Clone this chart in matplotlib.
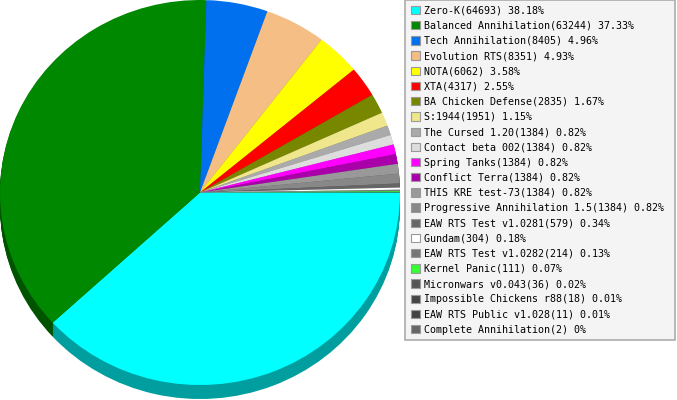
import matplotlib
matplotlib.use("Agg")
import matplotlib.pyplot as plt
from matplotlib.patches import Patch
from matplotlib.colors import to_rgb

# ---- data ----
games = ["Zero-K", "Balanced Annihilation", "Tech Annihilation", "Evolution RTS",
         "NOTA", "XTA", "BA Chicken Defense", "S:1944", "The Cursed 1.20",
         "Contact beta 002", "Spring Tanks", "Conflict Terra", "THIS KRE test-73",
         "Progressive Annihilation 1.5", "EAW RTS Test v1.0281", "Gundam",
         "EAW RTS Test v1.0282", "Kernel Panic", "Micronwars v0.043",
         "Impossible Chickens r88", "EAW RTS Public v1.028", "Complete Annihilation"]
counts = [64693, 63244, 8405, 8351, 6062, 4317, 2835, 1951, 1384, 1384, 1384,
          1384, 1384, 1384, 579, 304, 214, 111, 36, 18, 11, 2]
colors = ["#00FFFF", "#008800", "#0070EE", "#F4BE84", "#FFFF00", "#FF0000",
          "#778800", "#F0E68C", "#AAAAAA", "#DDDDDD", "#FF00FF", "#AA00AA",
          "#999999", "#888888", "#666666", "#FFFFFF", "#777777", "#33FF33",
          "#555555", "#444444", "#444444", "#666666"]

total = sum(counts)
labels = []
for g, c in zip(games, counts):
    p = round(100.0 * c / total, 2)
    labels.append(f"{g}({c}) {p:g}%")

# ---- figure: 677 x 400 px ----
fig = plt.figure(figsize=(6.77, 4.00), dpi=100)
ax = fig.add_axes([0, 0, 1, 1])

ry_px = 192.5
dark = [tuple(v * 0.62 for v in to_rgb(c)) for c in colors]

# side of the "3D" pie: stacked darker copies shifted down
for k in range(14, 0, -1):
    ax.pie(counts, colors=dark, startangle=0, counterclock=False,
           center=(0, -k / ry_px), radius=1, wedgeprops=dict(linewidth=0))

# top face
ax.pie(counts, colors=colors, startangle=0, counterclock=False,
       center=(0, 0), radius=1, wedgeprops=dict(linewidth=0))

ax.set_aspect("auto")
ax.set_xlim(-1, 1 + 277 / 200)
ax.set_ylim(-1 - 15 / ry_px, 1)
ax.axis("off")

# ---- legend ----
handles = [Patch(facecolor=c, edgecolor="#999999", linewidth=0.8) for c in colors]
leg = fig.legend(handles, labels, loc="upper left",
                 bbox_to_anchor=(405 / 677, 0.0, 270 / 677, 1.0),
                 bbox_transform=fig.transFigure, mode="expand",
                 prop=dict(family="DejaVu Sans Mono", size=7.2),
                 frameon=True, fancybox=False, borderaxespad=0,
                 handlelength=0.9, handleheight=0.9, handletextpad=0.45,
                 labelspacing=0.52, borderpad=0.55)
fr = leg.get_frame()
fr.set_facecolor("#F2F2F2")
fr.set_edgecolor("#999999")
fr.set_linewidth(1.2)

fig.savefig("out.png", dpi=100)
